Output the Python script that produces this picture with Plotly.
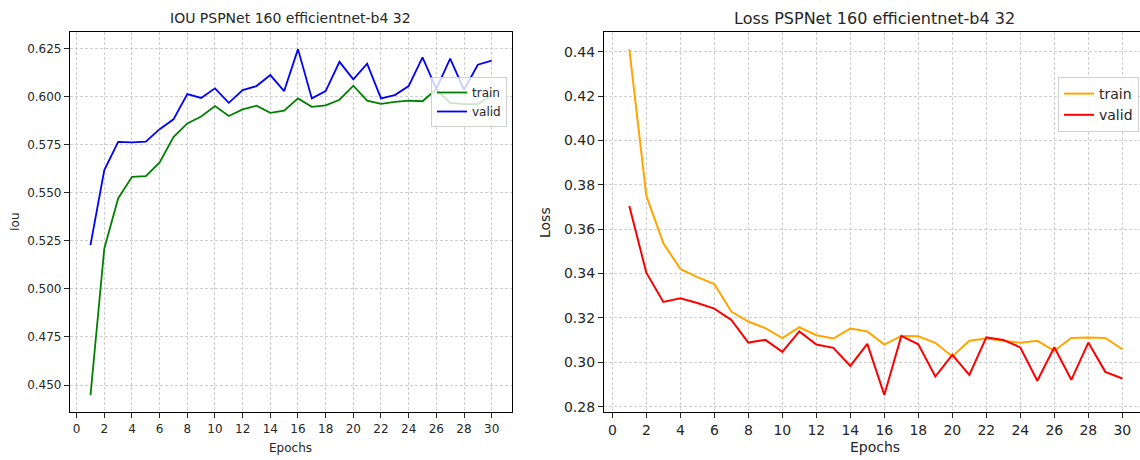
import plotly.graph_objects as go

epochs = list(range(1, 31))

iou_train = [0.4447, 0.521, 0.547, 0.5582, 0.5586, 0.5657, 0.5789, 0.586, 0.5896, 0.595,
             0.5898, 0.5933, 0.5952, 0.5915, 0.5926, 0.599, 0.5946, 0.5954, 0.5983, 0.6056,
             0.5978, 0.5962, 0.5972, 0.5978, 0.5975, 0.6037, 0.5967, 0.596, 0.596, 0.6007]
iou_valid = [0.5227, 0.5617, 0.5764, 0.5761, 0.5765, 0.583, 0.5881, 0.6012, 0.5992, 0.6042,
             0.5967, 0.6033, 0.6054, 0.6111, 0.6028, 0.6246, 0.599, 0.6028, 0.618, 0.6089,
             0.617, 0.599, 0.6007, 0.6054, 0.6203, 0.604, 0.6196, 0.6035, 0.6165, 0.6186]

loss_train = [0.4412, 0.3751, 0.3537, 0.3421, 0.3384, 0.3353, 0.3229, 0.3184, 0.3154, 0.3109,
              0.3158, 0.3122, 0.3107, 0.3152, 0.3139, 0.308, 0.3119, 0.3117, 0.3088, 0.3026,
              0.3097, 0.3107, 0.3097, 0.3088, 0.3097, 0.3052, 0.311, 0.3112, 0.311, 0.3059]
loss_valid = [0.3705, 0.3404, 0.3272, 0.3289, 0.3267, 0.3242, 0.3191, 0.3089, 0.3101, 0.3047,
              0.3139, 0.308, 0.3065, 0.2984, 0.3083, 0.2853, 0.3119, 0.3081, 0.2936, 0.3034,
              0.2943, 0.3113, 0.3101, 0.3067, 0.2917, 0.3068, 0.2921, 0.3089, 0.2957, 0.2927]

left_title = "IOU PSPNet 160 efficientnet-b4 32"
right_title = "Loss PSPNet 160 efficientnet-b4 32"

W, H = 1140, 460
FONT = "DejaVu Sans"
TXT = "#262626"
GRID = "#cfcfcf"

fig = go.Figure()
fig.add_trace(go.Scatter(x=epochs, y=iou_train, mode="lines", name="train",
                         line=dict(color="#008000", width=1.8), xaxis="x", yaxis="y", legend="legend"))
fig.add_trace(go.Scatter(x=epochs, y=iou_valid, mode="lines", name="valid",
                         line=dict(color="#0000ff", width=1.8), xaxis="x", yaxis="y", legend="legend"))
fig.add_trace(go.Scatter(x=epochs, y=loss_train, mode="lines", name="train",
                         line=dict(color="#ffa500", width=2), xaxis="x2", yaxis="y2", legend="legend2"))
fig.add_trace(go.Scatter(x=epochs, y=loss_valid, mode="lines", name="valid",
                         line=dict(color="#ff0000", width=2), xaxis="x2", yaxis="y2", legend="legend2"))

def px_x(p):
    return p / W

def px_y(p):
    return 1 - p / H

common_axis = dict(showline=True, linecolor="black", linewidth=1.2, ticks="outside", ticklen=5,
                   tickcolor=TXT, tickwidth=1, showgrid=True, gridcolor=GRID, griddash="3px,2px",
                   gridwidth=0.8, zeroline=False, automargin=False)

fig.update_layout(
    width=W, height=H,
    margin=dict(l=0, r=0, t=0, b=0),
    paper_bgcolor="white", plot_bgcolor="white",
    font=dict(family=FONT, color=TXT),
    xaxis=dict(domain=[px_x(70), px_x(512)], range=[-0.48, 31.47], tick0=0, dtick=2,
               mirror=True, anchor="y", tickfont=dict(size=12), **common_axis),
    yaxis=dict(domain=[px_y(412), px_y(32)], range=[0.436, 0.6335], tick0=0.45, dtick=0.025,
               tickformat=".3f", mirror=True, anchor="x", tickfont=dict(size=12), **common_axis),
    xaxis2=dict(domain=[px_x(604), 1.0], range=[-0.49, 31.04], tick0=0, dtick=2,
                mirror=True, anchor="y2", tickfont=dict(size=14), **common_axis),
    yaxis2=dict(domain=[px_y(412), px_y(32)], range=[0.2776, 0.4489], tick0=0.28, dtick=0.02,
                tickformat=".2f", mirror=False, anchor="x2", tickfont=dict(size=14), **common_axis),
    legend=dict(x=px_x(507), y=px_y(77), xanchor="right", yanchor="top",
                bgcolor="rgba(255,255,255,0.8)", bordercolor="#d0d0d0", borderwidth=1,
                font=dict(size=12, family=FONT, color=TXT), tracegroupgap=0, itemwidth=30),
    legend2=dict(x=px_x(1139), y=px_y(77), xanchor="right", yanchor="top",
                 bgcolor="rgba(255,255,255,0.8)", bordercolor="#d0d0d0", borderwidth=1,
                 font=dict(size=14, family=FONT, color=TXT), tracegroupgap=0, itemwidth=30),
    showlegend=True,
)

annos = [
    dict(text=left_title, x=px_x(290), y=px_y(18), font=dict(size=14)),
    dict(text=right_title, x=px_x(874), y=px_y(18), font=dict(size=16)),
    dict(text="Epochs", x=px_x(290), y=px_y(448), font=dict(size=12)),
    dict(text="Epochs", x=px_x(875), y=px_y(447), font=dict(size=14)),
    dict(text="Iou", x=px_x(15), y=px_y(222), font=dict(size=12), textangle=-90),
    dict(text="Loss", x=px_x(545), y=px_y(223), font=dict(size=14), textangle=-90),
]
for a in annos:
    fig.add_annotation(xref="paper", yref="paper", showarrow=False,
                       xanchor="center", yanchor="middle", **a)

fig.write_html("out.html",
               config={"displayModeBar": False},
               post_script="document.body.style.margin='0';document.body.style.padding='0';")
